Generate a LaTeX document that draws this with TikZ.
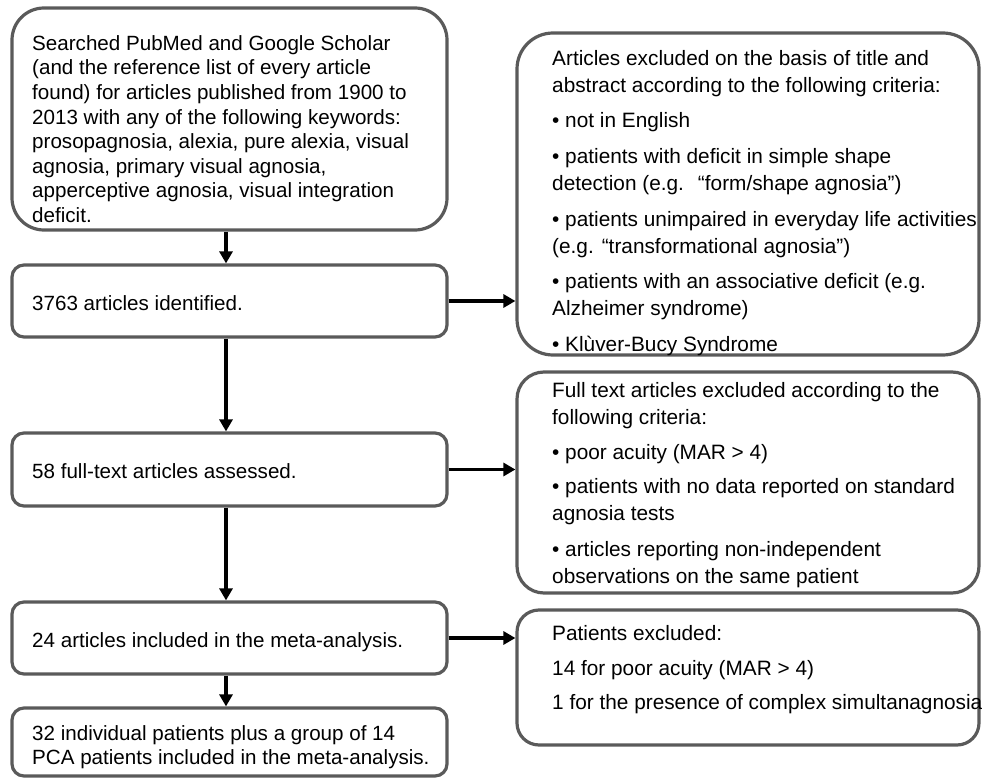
\documentclass[tikz,border=0pt]{standalone}
\usepackage{fontspec}
\setmainfont{Liberation Sans}
\usetikzlibrary{arrows.meta}
\definecolor{boxline}{HTML}{5A5A5A}
\tikzset{
  flowbox/.style={draw=boxline, line width=3.2pt, fill=white, inner sep=0pt, rectangle},
  lefttext/.style={anchor=north west, inner sep=0pt, align=left, font={\fontsize{20.6}{24.6}\selectfont}},
  righttext/.style={anchor=north west, inner sep=0pt, align=left, font={\fontsize{20.8}{26.8}\selectfont}},
  arr/.style={line width=3.6pt, -{Triangle[width=13pt,length=12pt]}}
}
\newcommand{\firstline}{\rule{0pt}{16pt}}
\begin{document}
\begin{tikzpicture}[x=1pt,y=-1pt]
\useasboundingbox (0,0) rectangle (982,778);
% left column boxes
\node[flowbox, rounded corners=32pt, minimum width=435pt, minimum height=222pt] (s1) at (229.5,119) {};
\node[flowbox, rounded corners=12pt, minimum width=435pt, minimum height=72pt] (s2) at (229.5,301) {};
\node[flowbox, rounded corners=12pt, minimum width=435pt, minimum height=73pt] (s3) at (229.5,469.5) {};
\node[flowbox, rounded corners=12pt, minimum width=435pt, minimum height=72pt] (s4) at (229.5,638) {};
\node[flowbox, rounded corners=12pt, minimum width=435pt, minimum height=68pt] (s5) at (229.5,742) {};
% right column boxes
\node[flowbox, rounded corners=36pt, minimum width=462pt, minimum height=322pt] (ra) at (748,194) {};
\node[flowbox, rounded corners=27pt, minimum width=462pt, minimum height=221pt] (rb) at (748,482.5) {};
\node[flowbox, rounded corners=22pt, minimum width=462pt, minimum height=135pt] (rc) at (748,677.5) {};
% texts
\node[lefttext] (t1) at (32,34) {\firstline Searched PubMed and Google Scholar\\
(and the reference list of every article\\
found) for articles published from 1900 to\\
2013 with any of the following keywords:\\
prosopagnosia, alexia, pure alexia, visual\\
agnosia, primary visual agnosia,\\
apperceptive agnosia, visual integration\\
deficit.};
\node[lefttext] (t2) at (32,294) {\firstline 3763 articles identified.};
\node[lefttext] (t3) at (32,462) {\firstline 58 full-text articles assessed.};
\node[lefttext] (t4) at (32,631) {\firstline 24 articles included in the meta-analysis.};
\node[lefttext] (t5) at (32,724) {\firstline 32 individual patients plus a group of 14\\
PCA patients included in the meta-analysis.};
\node[righttext] (ta) at (552,49) {\firstline Articles excluded on the basis of title and\\
abstract according to the following criteria:\\[9pt]
• not in English\\[9pt]
• patients with deficit in simple shape\\
detection (e.g.\hspace{14pt}“form/shape agnosia”)\\[9pt]
• patients unimpaired in everyday life activities\\
(e.g.\hspace{8pt}“transformational agnosia”)\\[9pt]
• patients with an associative deficit (e.g.\\
Alzheimer syndrome)\\[9pt]
• Klùver-Bucy Syndrome};
\node[righttext] (tb) at (552,381) {\firstline Full text articles excluded according to the\\
following criteria:\\[9pt]
• poor acuity (MAR > 4)\\[7pt]
• patients with no data reported on standard\\
agnosia tests\\[9pt]
• articles reporting non-independent\\
observations on the same patient};
\node[righttext] (tc) at (552,624) {\firstline Patients excluded:\\[8pt]
14 for poor acuity (MAR > 4)\\[8pt]
1 for the presence of complex simultanagnosia};
% connectors
\draw[arr] ([xshift=-3.5pt]s1.south) -- ([xshift=-3.5pt]s2.north);
\draw[arr] ([xshift=-3.5pt]s2.south) -- ([xshift=-3.5pt]s3.north);
\draw[arr] ([xshift=-3.5pt]s3.south) -- ([xshift=-3.5pt]s4.north);
\draw[arr] ([xshift=-3.5pt]s4.south) -- ([xshift=-3.5pt]s5.north);
\draw[arr] (s2.east) -- (s2.east -| ra.west);
\draw[arr] (s3.east) -- (s3.east -| rb.west);
\draw[arr] (s4.east) -- (s4.east -| rc.west);
\end{tikzpicture}
\end{document}
